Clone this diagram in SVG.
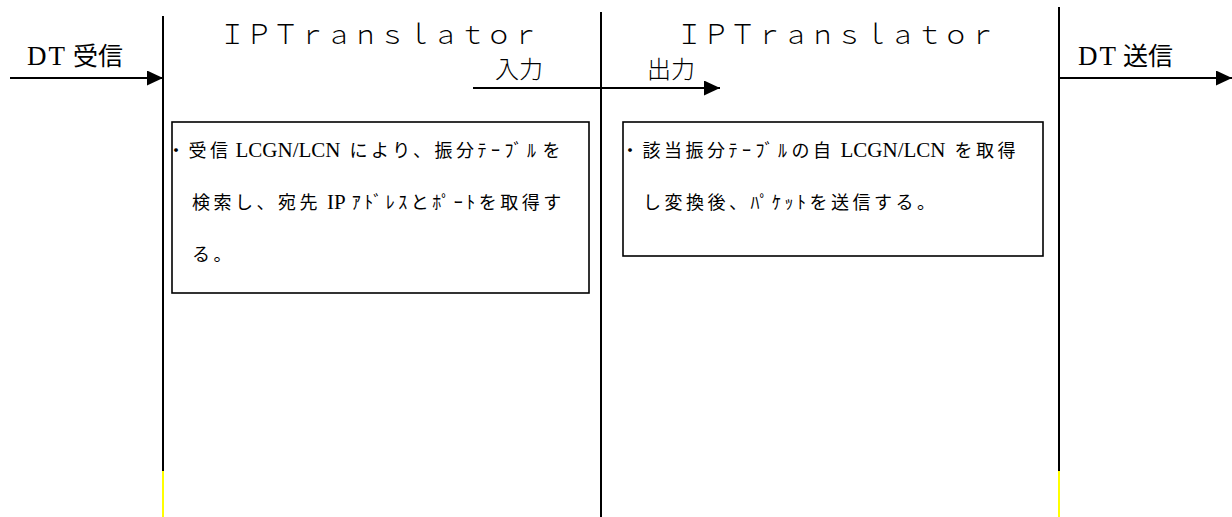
<svg xmlns="http://www.w3.org/2000/svg" width="1232" height="517" viewBox="0 0 1232 517">
<style>
.lane{stroke:#000;stroke-width:2;fill:none}
.yel{stroke:#ffff00;stroke-width:2;fill:none}
.box{fill:#fff;stroke:#000;stroke-width:1.6}
.conn{stroke:#000;stroke-width:2;fill:none}
.title{font-family:"Noto Sans CJK JP","Noto Sans",sans-serif;font-size:26.67px;font-weight:300;fill:#000}
.lbl{font-family:"Noto Sans CJK JP",sans-serif;font-size:25px;fill:#000}
.io{font-family:"Noto Sans CJK JP",sans-serif;font-size:24px;font-weight:300;fill:#000}
.lat{font-family:"Liberation Serif",serif;font-size:27px;fill:#000}
.bt{font-family:"Noto Sans CJK JP",sans-serif;font-size:18px;letter-spacing:3.5px;fill:#000}
.hw{letter-spacing:4.5px}
.bl{font-family:"Liberation Serif",serif;font-size:21px;letter-spacing:0;fill:#000}
</style>
<defs>
<marker id="ah" markerUnits="userSpaceOnUse" markerWidth="16" markerHeight="16" refX="16" refY="7.5" orient="auto">
<path d="M0,0 L16,7.5 L0,15 z" fill="#000"/>
</marker>
</defs>
<rect width="1232" height="517" fill="#fff"/>
<g id="lane-left">
<line class="lane" x1="163" y1="16" x2="163" y2="471"/>
<line class="yel" x1="163" y1="471" x2="163" y2="517"/>
</g>
<g id="lane-mid">
<line class="lane" x1="601" y1="12" x2="601" y2="517"/>
</g>
<g id="lane-right">
<line class="lane" x1="1059" y1="7" x2="1059" y2="471"/>
<line class="yel" x1="1059" y1="471" x2="1059" y2="517"/>
</g>
<g id="title-left"><text class="title" x="219" y="44">ＩＰＴｒａｎｓｌａｔｏｒ</text></g>
<g id="title-right"><text class="title" x="676" y="44">ＩＰＴｒａｎｓｌａｔｏｒ</text></g>
<g id="box-left">
<rect class="box" x="172" y="122" width="417" height="171"/>
<text y="157"><tspan class="bt" x="167">・受信</tspan><tspan class="bl" dx="4">LCGN/LCN</tspan><tspan class="bt" dx="9">により、振分</tspan><tspan class="bt hw">ﾃｰﾌﾞﾙ</tspan><tspan class="bt" dx="2">を</tspan></text>
<text y="209"><tspan class="bt" x="192">検索し、宛先</tspan><tspan class="bl" dx="6">IP</tspan><tspan class="bt" dx="6">ｱﾄﾞﾚｽとﾎﾟｰﾄを取得す</tspan></text>
<text y="261"><tspan class="bt" x="192">る。</tspan></text>
</g>
<g id="box-right">
<rect class="box" x="623" y="122" width="420" height="134"/>
<text y="157"><tspan class="bt" x="621">・該当振分</tspan><tspan class="bt hw">ﾃｰﾌﾞﾙ</tspan><tspan class="bt">の自</tspan><tspan class="bl" dx="6">LCGN/LCN</tspan><tspan class="bt" dx="9">を取得</tspan></text>
<text y="209"><tspan class="bt" x="643">し変換後、ﾊﾟｹｯﾄを送信する。</tspan></text>
</g>
<g id="connectors">
<line class="conn" x1="10" y1="78" x2="163" y2="78" marker-end="url(#ah)"/>
<line class="conn" x1="473" y1="88" x2="720" y2="88" marker-end="url(#ah)"/>
<line class="conn" x1="1059" y1="78" x2="1232" y2="78" marker-end="url(#ah)"/>
</g>
<g id="labels">
<text y="65"><tspan class="lat" x="27" letter-spacing="2">DT</tspan><tspan class="lbl" x="73">受信</tspan></text>
<text y="65"><tspan class="lat" x="1078" letter-spacing="2">DT</tspan><tspan class="lbl" x="1123">送信</tspan></text>
<text class="io" x="495" y="78">入力</text>
<text class="io" x="647" y="78">出力</text>
</g>
</svg>
